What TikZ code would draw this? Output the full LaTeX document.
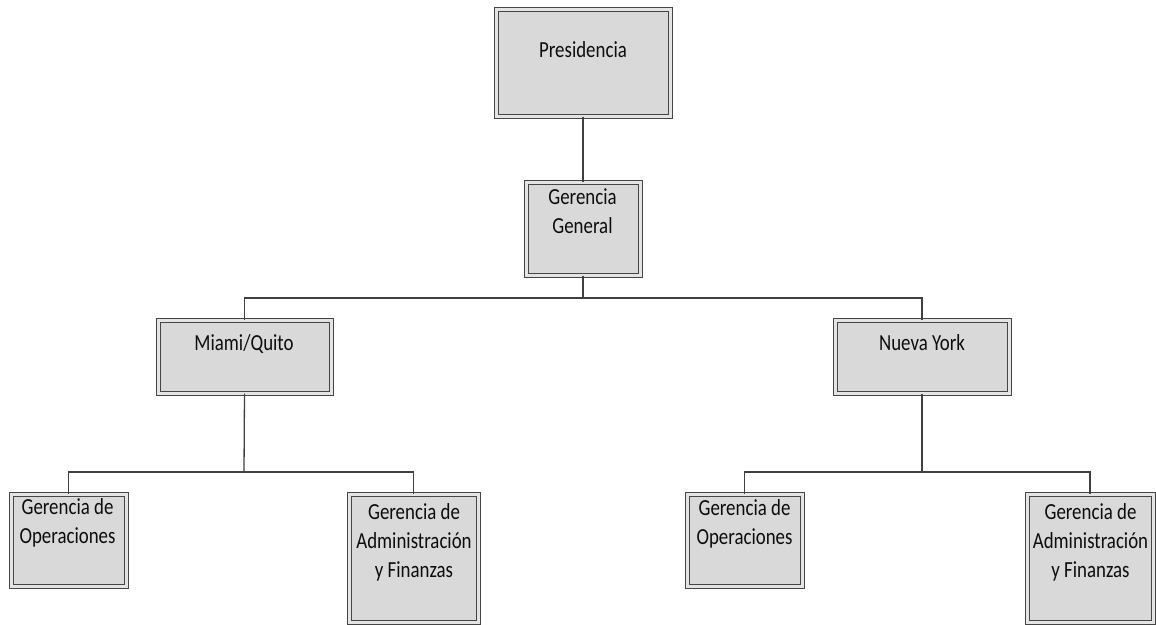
\documentclass[tikz,border=0pt]{standalone}
\usepackage{fontspec}
\setmainfont{Carlito}[FakeStretch=0.82]
\usetikzlibrary{shadows}
\definecolor{boxfill}{HTML}{D9D9D9}
\definecolor{boxgap}{HTML}{E4E4E4}
\definecolor{boxline}{HTML}{454545}
\definecolor{shadowgray}{HTML}{D2D2D2}
\definecolor{wire}{HTML}{404040}
\definecolor{ink}{HTML}{0D0D0D}
\begin{document}
\begin{tikzpicture}[x=1pt,y=-1pt,
  orgbox/.style={rectangle, draw=boxline, line width=1pt, double=boxgap,
    double distance=3pt, fill=boxfill, inner sep=0pt,
    drop shadow={shadow xshift=3pt, shadow yshift=-3pt, fill=shadowgray, opacity=1}},
  orgtext/.style={anchor=north, inner sep=0pt, align=center, text=ink,
    font=\fontsize{23}{29}\selectfont,
    execute at begin node={\rule{0pt}{19pt}}},
  link/.style={draw=wire, line width=1.3pt}]
\useasboundingbox (0,0) rectangle (1156,624);

% boxes
\node[orgbox, minimum width=174pt, minimum height=107pt] (pres) at (583,62.5) {};
\node[orgbox, minimum width=114pt, minimum height=93pt] (gg) at (583,228.5) {};
\node[orgbox, minimum width=173pt, minimum height=73pt] (mq) at (244.5,356.5) {};
\node[orgbox, minimum width=174pt, minimum height=73pt] (ny) at (922,356.5) {};
\node[orgbox, minimum width=115pt, minimum height=92pt] (op1) at (68.5,540) {};
\node[orgbox, minimum width=129pt, minimum height=128pt] (ad1) at (413.5,558) {};
\node[orgbox, minimum width=115pt, minimum height=92pt] (op2) at (744.5,540) {};
\node[orgbox, minimum width=126pt, minimum height=128pt] (ad2) at (1090,558) {};

% texts (node placed 19pt above the first baseline)
\node[orgtext] (presT) at (583,38) {Presidencia};
\node[orgtext] (ggT) at (582.5,188) {Gerencia\\General};
\node[orgtext] (mqT) at (244,331) {Miami/Quito};
\node[orgtext] (nyT) at (922,331) {Nueva York};
\node[orgtext] (op1T) at (67.5,498) {Gerencia de\\Operaciones};
\node[orgtext] (ad1T) at (414,503) {Gerencia de\\Administración\\y Finanzas};
\node[orgtext] (op2T) at (744.5,499) {Gerencia de\\Operaciones};
\node[orgtext] (ad2T) at (1090.5,503) {Gerencia de\\Administración\\y Finanzas};

% junction points of the connectors
\coordinate (j1) at (583,298);
\coordinate (j2) at (244,472);
\coordinate (j3) at (922,472);

% connectors
\draw[link] (pres.south) -- (gg.north);
\draw[link] (gg.south) -- (j1);
\draw[link] (mq.north) |- (j1) -| (ny.north);
\draw[link] (mq.south) -- (j2);
\draw[link] (op1.north) |- (j2) -| (ad1.north);
\draw[link] (ny.south) -- (j3);
\draw[link] (op2.north) |- (j3) -| (ad2.north);
\end{tikzpicture}
\end{document}
